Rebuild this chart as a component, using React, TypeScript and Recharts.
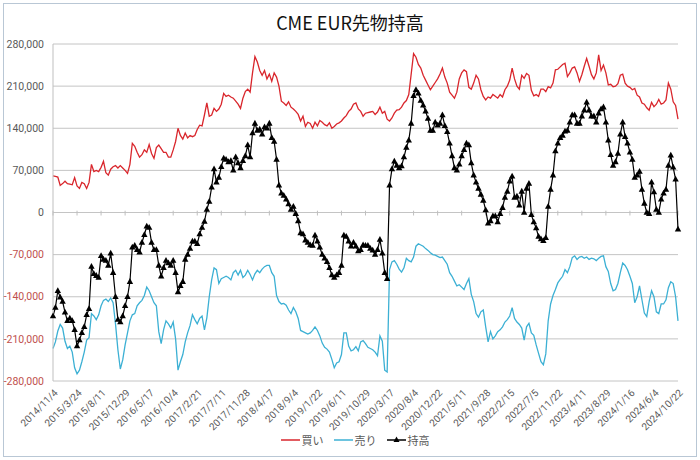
import { LineChart, Line, XAxis, YAxis, CartesianGrid, ReferenceLine } from "recharts";

// CME EUR futures positioning, biweekly, in thousands of contracts
const tickLabels = [
  "2014/11/4", "2015/3/24", "2015/8/11", "2015/12/29", "2016/5/17", "2016/10/4",
  "2017/2/21", "2017/7/11", "2017/11/28", "2018/4/17", "2018/9/4", "2019/1/22",
  "2019/6/11", "2019/10/29", "2020/3/17", "2020/8/4", "2020/12/22", "2021/5/11",
  "2021/9/28", "2022/2/15", "2022/7/5", "2022/11/22", "2023/4/11", "2023/8/29",
  "2024/1/16", "2024/6/4", "2024/10/22",
];

// 買い
const buy = [
  61, 60, 59, 45, 48, 52, 48, 47, 46, 58,
  44, 40, 50, 48, 40, 50, 80, 68, 70, 68,
  75, 85, 66, 62, 72, 76, 78, 74, 78, 74,
  70, 65, 80, 115, 110, 100, 92, 96, 104, 100,
  113, 98, 90, 108, 112, 106, 100, 100, 92, 92,
  104, 118, 140, 128, 122, 132, 124, 128, 126, 128,
  138, 145, 144, 162, 182, 160, 162, 173, 168, 172,
  180, 198, 193, 195, 192, 190, 185, 180, 173, 190,
  201, 205, 200, 232, 259, 250, 236, 228, 236, 222,
  230, 218, 232, 225, 210, 185, 182, 178, 184, 175,
  172, 168, 163, 152, 160, 143, 150, 148, 140, 150,
  144, 153, 150, 146, 144, 149, 140, 143, 147, 149,
  152, 157, 161, 168, 172, 180, 182, 172, 168, 160,
  165, 166, 167, 168, 163, 167, 175, 165, 168, 155,
  152, 157, 165, 170, 171, 175, 182, 186, 196, 230,
  264, 258, 246, 240, 228, 220, 212, 204, 210, 216,
  222, 230, 240, 225, 215, 200, 195, 190, 200, 222,
  232, 237, 234, 208, 205, 215, 228, 222, 204, 193,
  187, 192, 190, 196, 193, 190, 196, 192, 204, 210,
  220, 240, 222, 210, 205, 228, 223, 231, 228, 203,
  194, 196, 193, 205, 205, 201, 209, 207, 215, 237,
  238, 242, 246, 248, 226, 232, 240, 242, 232, 218,
  229, 243, 256, 243, 229, 222, 232, 262, 236, 245,
  232, 212, 213, 209, 210, 214, 228, 230, 215, 210,
  208, 204, 206, 195, 192, 182, 180, 174, 170, 183,
  176, 180, 188, 180, 182, 187, 215, 205, 184, 178, 155,
];

// 売り
const sell = [
  -226, -215, -197, -186, -192, -214, -226, -222, -232, -258,
  -268, -262, -248, -232, -212, -208, -168, -172, -178, -170,
  -155, -146, -144, -148, -142, -150, -185, -228, -260, -245,
  -220, -200, -180, -170, -168, -155, -150, -146, -138, -124,
  -130, -140, -150, -155, -198, -218, -195, -180, -185, -192,
  -182, -210, -262, -248, -236, -215, -200, -188, -170, -178,
  -185, -176, -172, -195, -175, -140, -112, -92, -95, -118,
  -110, -108, -106, -108, -112, -100, -96, -104, -96, -108,
  -104, -96, -103, -112, -102, -96, -100, -94, -90, -88,
  -88, -100, -106, -138, -148, -152, -151, -154, -162, -168,
  -158, -165, -176, -196, -198, -200, -202, -200, -196, -190,
  -196, -205, -217, -224, -227, -232, -244, -258, -250, -248,
  -236, -200, -200, -222, -230, -228, -223, -230, -215, -213,
  -218, -224, -226, -228, -232, -238, -205, -214, -262, -265,
  -95, -82, -80, -86, -94, -99, -92, -76, -80, -82,
  -74, -56, -52, -54, -56, -60, -63, -67, -70, -71,
  -73, -75, -74, -80, -86, -100, -106, -114, -122, -120,
  -124, -128, -118, -110, -136, -148, -168, -174, -165, -162,
  -190, -215, -198, -210, -205, -198, -195, -190, -182, -178,
  -172, -158, -176, -182, -186, -192, -212, -190, -184, -200,
  -204, -220, -234, -248, -253, -235, -180, -152, -138, -128,
  -117, -111, -106, -95, -100, -90, -75, -72, -78, -74,
  -73, -76, -74, -78, -76, -77, -80, -76, -73, -72,
  -90, -98, -118, -130, -128, -118, -100, -84, -88, -95,
  -106, -118, -150, -140, -122, -145, -167, -173, -148, -130,
  -140, -165, -168, -152, -152, -145, -125, -115, -118, -140, -180,
];

// 持高
const net = [
  -172, -158, -130, -141, -148, -166, -180, -176, -180, -195,
  -222, -212, -200, -190, -170, -160, -90, -102, -105, -108,
  -72, -78, -80, -88, -68, -100, -140, -178, -182, -172,
  -155, -140, -115, -58, -55, -62, -66, -50, -37, -23,
  -25, -50, -62, -62, -88, -106, -92, -80, -84, -88,
  -80, -100, -132, -122, -115, -78, -70, -60, -48, -48,
  -52, -36, -25, -15, 5, 18, 42, 72, 50, 58,
  76, 90, 88, 84, 86, 70, 92, 82, 74, 86,
  94, 112, 92, 132, 148, 136, 138, 130, 142, 140,
  148, 124, 118, 88, 45, 32, 28, 22, 14, 5,
  10, -2, -14, -34, -36, -46, -50, -54, -55, -38,
  -48, -58, -70, -76, -82, -92, -104, -108, -104, -100,
  -88, -38, -40, -48, -56, -50, -56, -64, -62, -54,
  -55, -55, -60, -63, -70, -62, -45, -68, -100, -110,
  45, 72, 85, 78, 74, 77, 92, 108, 120, 148,
  194, 204, 198, 186, 178, 168, 156, 136, 136, 150,
  145, 148, 162, 144, 134, 115, 94, 74, 70, 80,
  94, 104, 115, 112, 82, 62, 50, 40, 30, 20,
  4, -18, -14, -6, -6, -16, -2, 8, 25, 35,
  52, 60, 25, 27, 12, 35, 0, 40, 48, -4,
  -16, -26, -40, -44, -47, -42, 10, 38, 62, 102,
  115, 124, 128, 135, 136, 150, 162, 162, 148, 148,
  160, 170, 183, 170, 160, 160, 150, 165, 172, 175,
  150, 120, 96, 78, 84, 98, 130, 150, 126, 115,
  100, 88, 58, 62, 68, 38, 15, 0, -2, 50,
  34, 5, 0, 22, 32, 38, 78, 95, 75, 55, -28,
];

const yTicks = [-280000, -210000, -140000, -70000, 0, 70000, 140000, 210000, 280000];

const RED = "#d9262c";
const CYAN = "#3cb0d4";
const AXIS_FONT = "'Liberation Sans Narrow', Roboto, sans-serif";
const JP_FONT = "'Noto Sans CJK JP', sans-serif";

const rows = buy.map((b, i) => ({
  i,
  buy: b * 1000,
  sell: sell[i] * 1000,
  net: net[i] * 1000,
}));

const xTicks = tickLabels.map((_, k) => k * 10);

const YTick = ({ x, y, payload }: any) => (
  <text
    x={x}
    y={y}
    dy="0.35em"
    textAnchor="end"
    fontSize={10.5}
    fontFamily={AXIS_FONT}
    fill={payload.value < 0 ? "#c0504d" : "#595959"}
  >
    {payload.value.toLocaleString("en-US")}
  </text>
);

const XTick = ({ x, y, payload }: any) => (
  <text
    transform={`translate(${x + 3},${y + 10}) rotate(-45)`}
    textAnchor="end"
    dy="0.35em"
    fontSize={10}
    fontFamily={AXIS_FONT}
    fill="#595959"
  >
    {tickLabels[Math.round(payload.value / 10)]}
  </text>
);

const Triangle = ({ cx, cy, index }: any) => {
  if (cx == null || cy == null) return null;
  return (
    <path
      key={`tri-${index}`}
      d={`M${cx},${cy - 3.6} L${cx + 3.2},${cy + 2.2} L${cx - 3.2},${cy + 2.2} Z`}
      fill="#000"
    />
  );
};

const LegendItem = ({ color, label, marker }: { color: string; label: string; marker?: boolean }) => (
  <div style={{ display: "flex", alignItems: "center", marginRight: 10 }}>
    <svg width={19} height={10}>
      <line x1={0} y1={5} x2={19} y2={5} stroke={color} strokeWidth={1.5} />
      {marker && <path d="M9.5,1.5 L12.5,7 L6.5,7 Z" fill={color} />}
    </svg>
    <span style={{ marginLeft: 2 }}>{label}</span>
  </div>
);

export default function App() {
  return (
    <div style={{ position: "absolute", left: 0, top: 0, width: 700, height: 460, background: "#fff" }}>
      <div
        style={{
          position: "absolute",
          left: 3,
          top: 3,
          width: 692,
          height: 452,
          border: "1px solid #b9c7d5",
        }}
      />
      <div style={{ position: "absolute", left: 0, top: 0 }}>
        <LineChart width={700} height={460} data={rows} margin={{ top: 44, right: 22, bottom: 29, left: 0 }}>
          <CartesianGrid vertical={false} stroke="#c4c4c4" />
          <XAxis
            type="number"
            dataKey="i"
            domain={[0, 260]}
            ticks={xTicks}
            interval={0}
            height={50}
            axisLine={false}
            tickLine={false}
            tickSize={0}
            tickMargin={0}
            tick={<XTick />}
          />
          <YAxis
            type="number"
            domain={[-280000, 280000]}
            ticks={yTicks}
            width={53}
            axisLine={{ stroke: "#bfbfbf" }}
            tickLine={false}
            tickSize={0}
            tickMargin={9}
            tick={<YTick />}
          />
          {xTicks.map((t) => (
            <ReferenceLine
              key={`tk-${t}`}
              segment={[
                { x: t, y: 3000 },
                { x: t, y: -5000 },
              ]}
              stroke="#bfbfbf"
            />
          ))}
          <Line type="linear" dataKey="buy" stroke={RED} strokeWidth={1.3} dot={false} isAnimationActive={false} />
          <Line type="linear" dataKey="sell" stroke={CYAN} strokeWidth={1.3} dot={false} isAnimationActive={false} />
          <Line
            type="linear"
            dataKey="net"
            stroke="#000"
            strokeWidth={1.2}
            dot={Triangle}
            activeDot={false}
            isAnimationActive={false}
          />
        </LineChart>
      </div>
      <div
        style={{
          position: "absolute",
          left: 0,
          top: 9,
          width: 700,
          textAlign: "center",
          fontSize: 18,
          fontFamily: JP_FONT,
          color: "#111",
        }}
      >
        CME EUR先物持高
      </div>
      <div
        style={{
          position: "absolute",
          left: 10,
          top: 432,
          width: 700,
          display: "flex",
          justifyContent: "center",
          fontSize: 11,
          fontFamily: JP_FONT,
          color: "#595959",
        }}
      >
        <LegendItem color={RED} label="買い" />
        <LegendItem color={CYAN} label="売り" />
        <LegendItem color="#000" label="持高" marker />
      </div>
    </div>
  );
}
